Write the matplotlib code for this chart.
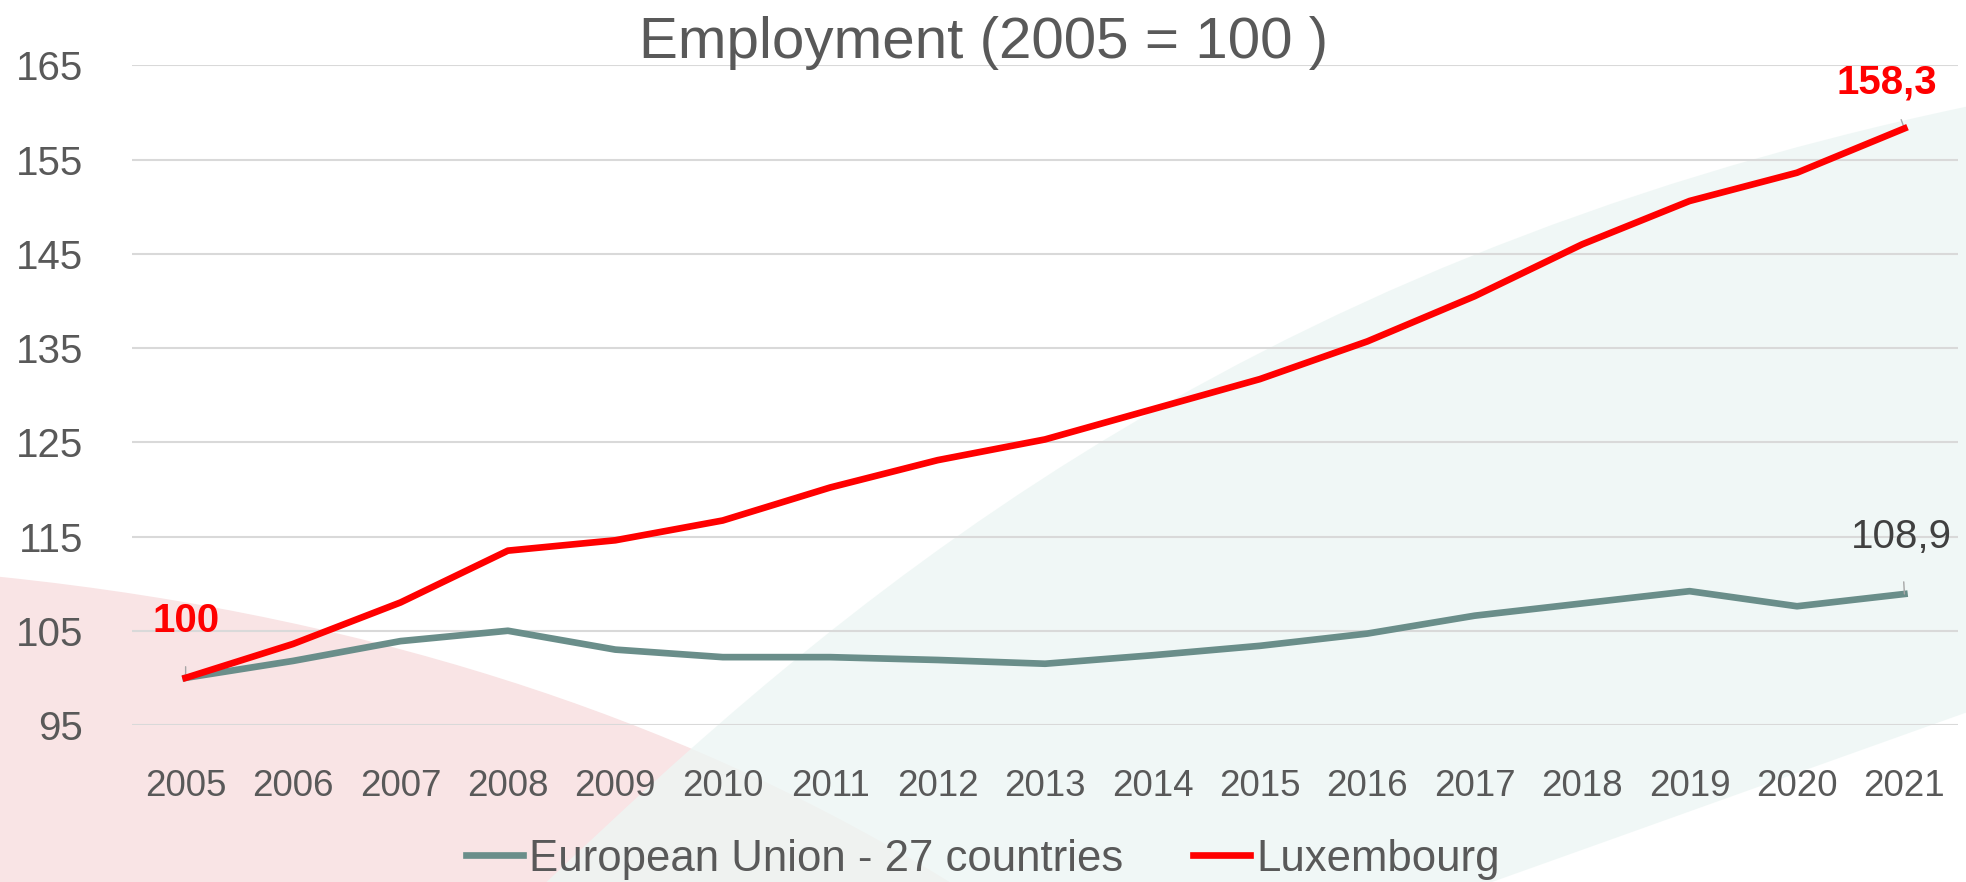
import numpy as np
import matplotlib
matplotlib.use('Agg')
import matplotlib.pyplot as plt
from matplotlib.patches import PathPatch
from matplotlib.path import Path

plt.rcParams['font.family'] = ['Liberation Sans', 'DejaVu Sans']

years = [str(y) for y in range(2005, 2022)]
eu = [100, 101.8, 103.9, 105.0, 103.0, 102.2, 102.2, 101.9, 101.5, 102.4,
      103.4, 104.7, 106.6, 107.9, 109.2, 107.6, 108.9]
lux = [100, 103.6, 108.0, 113.5, 114.6, 116.7, 120.2, 123.1, 125.3, 128.5,
       131.7, 135.7, 140.5, 146.0, 150.6, 153.6, 158.3]
yticks = [95, 105, 115, 125, 135, 145, 155, 165]

grey = '#595959'
teal = '#6A8E8A'
red = '#FF0000'

fig = plt.figure(figsize=(19.66, 8.82), dpi=100)

# background shapes, drawn in a full-figure axes behind the chart
bg = fig.add_axes([0, 0, 1, 1], zorder=-1)
bg.set_xlim(0, 1)
bg.set_ylim(0, 1)
bg.axis('off')
C4, L2 = Path.CURVE4, Path.LINETO
pink = Path([(0, 0.346), (0.20, 0.30), (0.36, 0.17), (0.483, 0), (0, 0), (0, 0.346)],
            [Path.MOVETO, C4, C4, C4, L2, Path.CLOSEPOLY])
green = Path([(0.278, 0), (0.42, 0.30), (0.62, 0.70), (1, 0.879), (1, 0.192),
              (0.759, 0), (0.278, 0)],
             [Path.MOVETO, C4, C4, C4, L2, L2, Path.CLOSEPOLY])
bg.add_patch(PathPatch(pink, facecolor='#F9E4E5', edgecolor='none'))
bg.add_patch(PathPatch(green, facecolor='#EDF6F4', edgecolor='none', alpha=0.8))

ax = fig.add_axes([0.0671, 0.178, 0.9289, 0.748])
ax.patch.set_alpha(0)
x = np.arange(len(years))
ax.plot(x, eu, color=teal, lw=4.8, label='European Union - 27 countries', zorder=3)
ax.plot(x, lux, color=red, lw=4.8, label='Luxembourg', zorder=4)

ax.set_xlim(-0.5, len(years) - 0.5)
ax.set_ylim(95, 165)
ax.set_yticks(yticks)
ax.set_xticks(x)
ax.set_xticklabels(years)
ax.grid(axis='y', color='#D9D9D9', lw=1.5)
ax.set_axisbelow(True)
for s in ax.spines.values():
    s.set_visible(False)
ax.tick_params(axis='both', length=0, colors=grey)
ax.tick_params(axis='x', pad=32, labelsize=26.5)
ax.tick_params(axis='y', pad=35, labelsize=29)

# data labels
ax.annotate('100', xy=(0, lux[0]), xytext=(0, 106), ha='center', va='center',
            fontsize=29, fontweight='bold', color=red,
            arrowprops=dict(arrowstyle='-', color='#A6A6A6', lw=1, shrinkA=17, shrinkB=0))
ax.annotate('158,3', xy=(16, lux[-1]), xytext=(15.84, 163.2), ha='center', va='center',
            fontsize=29, fontweight='bold', color=red,
            arrowprops=dict(arrowstyle='-', color='#A6A6A6', lw=1, shrinkA=12, shrinkB=0))
ax.annotate('108,9', xy=(16, eu[-1]), xytext=(15.97, 115), ha='center', va='center',
            fontsize=29, color='#404040',
            arrowprops=dict(arrowstyle='-', color='#A6A6A6', lw=1, shrinkA=17, shrinkB=0))

fig.text(0.5005, 0.934, 'Employment (2005 = 100 )', ha='center', va='baseline',
         fontsize=42, color=grey)

leg = fig.legend(loc='center', bbox_to_anchor=(0.5, 0.026), ncol=2, frameon=False,
                 fontsize=31.5, handlelength=1.3, handletextpad=0.15, columnspacing=1.6)
for t in leg.get_texts():
    t.set_color(grey)

fig.savefig('out.png', dpi=100)
